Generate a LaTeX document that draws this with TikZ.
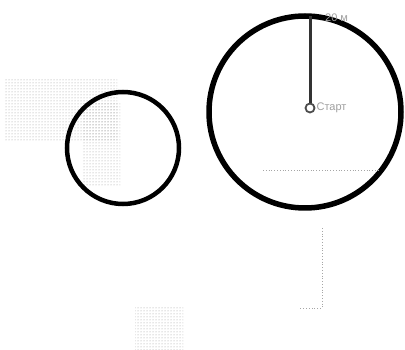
\documentclass[tikz,border=0pt]{standalone}
\usepackage{fontspec}
\setmainfont{Liberation Sans}
\usetikzlibrary{patterns}
\begin{document}
\begin{tikzpicture}[x=1pt,y=-1pt,
  ring/.style={draw=black,line width=#1},
  stip/.style={pattern=dots,pattern color=gray!80},
  dotline/.style={draw=gray!70,dotted,line width=0.8pt},
  lbl/.style={text=gray!75,font=\fontsize{11}{12}\selectfont,inner sep=1pt}]
\useasboundingbox (0,0) rectangle (405,350);
% stippled areas
\path[stip] (5,78) rectangle (117,142);
\path[stip] (82,103) rectangle (120,187);
\path[stip] (135,308) rectangle (183,350);
% small circle
\node[ring=4.5pt,circle,minimum size=112pt,inner sep=0pt] (small) at (123,148) {};
% large circle
\node[ring=5.5pt,circle,minimum size=192pt,inner sep=0pt] (big) at (305,112) {};
% dotted lines
\coordinate (h1) at (263,170);
\coordinate (h2) at (380,170);
\draw[dotline] (h1) -- (h2);
\coordinate (v1) at (322,228);
\coordinate (v2) at (322,308);
\coordinate (v3) at (300,308);
\draw[dotline] (v1) -- (v2) -- (v3);
% start
\node[circle,draw=gray!60!black,line width=1.8pt,minimum size=9pt,inner sep=0pt] (start) at (310,108) {};
\node[lbl,anchor=west] (startlbl) at (start.east) {Старт};
\coordinate (top) at (310,16);
\draw[line width=3pt,gray!40!black] (start.north) -- (top);
\node[lbl,anchor=west] (dist) at (324,18) {20 м};
\end{tikzpicture}
\end{document}
